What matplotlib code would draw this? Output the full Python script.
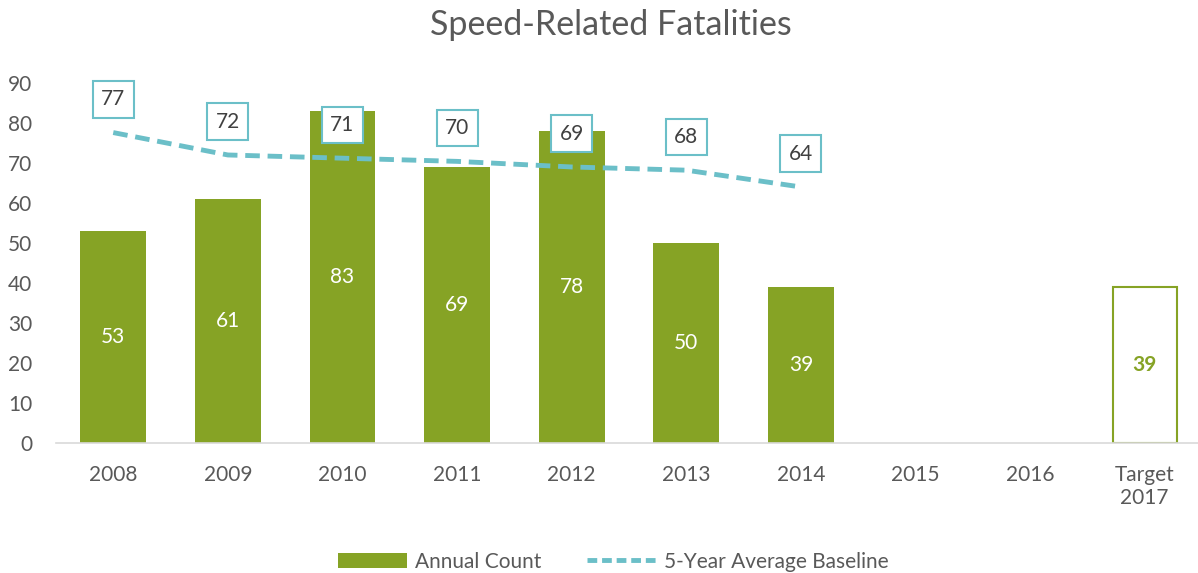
import matplotlib.pyplot as plt
from matplotlib.patches import Patch
from matplotlib.lines import Line2D

plt.rcParams['font.family'] = ['Lato', 'DejaVu Sans']

categories = ['2008', '2009', '2010', '2011', '2012', '2013', '2014', '2015', '2016', 'Target\n2017']
annual = [53, 61, 83, 69, 78, 50, 39]
target = 39
baseline = [77.6, 72.0, 71.2, 70.4, 69.0, 68.2, 64.0]
baseline_labels = ['77', '72', '71', '70', '69', '68', '64']

green = '#86A325'
teal = '#6BBFC8'
grey = '#595959'

fig = plt.figure(figsize=(11.98, 5.73), dpi=100)
ax = fig.add_axes([0.0467, 0.2269, 0.9566, 0.6283])

x = list(range(len(categories)))
bars = ax.bar(x[:len(annual)], annual, width=0.575, color=green)
for xi, v in zip(x, annual):
    ax.text(xi, v / 2, str(v), ha='center', va='center', color='white', fontsize=15)

# target bar, outlined
ax.bar(x[-1], target, width=0.56, facecolor='white', edgecolor=green, linewidth=1.5)
ax.text(x[-1], target / 2, str(target), ha='center', va='center', color=green,
        fontsize=15, fontweight='bold')

ax.plot(x[:len(baseline)], baseline, color=teal, linewidth=3.5, linestyle=(0, (3, 1.6)))
for xi, v, lab in zip(x, baseline, baseline_labels):
    ax.annotate(lab, (xi, v), xytext=(0, 24), textcoords='offset points',
                ha='center', va='center', fontsize=15, color='#404040',
                bbox=dict(boxstyle='square,pad=0.4', facecolor='white', edgecolor=teal, linewidth=1.5))

ax.set_xlim(-0.5, 9.5)
ax.set_ylim(0, 90)
ax.set_yticks(range(0, 91, 10))
ax.set_xticks(x)
ax.set_xticklabels(categories)
ax.tick_params(axis='both', length=0, labelsize=15, colors=grey)
ax.tick_params(axis='y', pad=17)
ax.tick_params(axis='x', pad=16)
for s in ['top', 'right', 'left']:
    ax.spines[s].set_visible(False)
ax.spines['bottom'].set_color('#D9D9D9')
ax.spines['bottom'].set_linewidth(1.2)

fig.suptitle('Speed-Related Fatalities', x=0.51, y=0.985, fontsize=24.5, color=grey)

handles = [Patch(facecolor=green, label='Annual Count'),
           Line2D([0], [0], color=teal, linewidth=3.5, linestyle=(0, (2, 1)), label='5-Year Average Baseline')]
fig.legend(handles=handles, loc='center', bbox_to_anchor=(0.512, 0.02), ncol=2, frameon=False,
           fontsize=15, labelcolor=grey, handlelength=3.3, columnspacing=2.2, handletextpad=0.4)

fig.savefig('out.png', dpi=100)
